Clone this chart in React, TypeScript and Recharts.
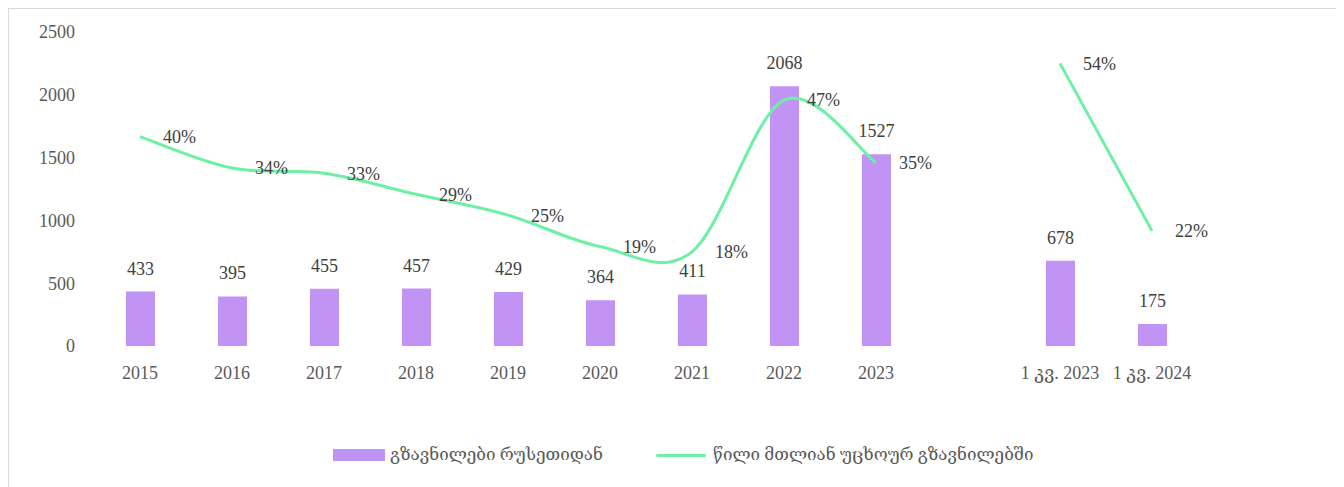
import React from 'react'
import {
	ComposedChart,
	Bar,
	Line,
	XAxis,
	YAxis,
	LabelList,
} from 'recharts'

// categories (one empty slot separates the yearly and quarterly data)
const categories = [
	'2015',
	'2016',
	'2017',
	'2018',
	'2019',
	'2020',
	'2021',
	'2022',
	'2023',
	'',
	'1 კვ. 2023',
	'1 კვ. 2024',
]

// remittances from Russia (mln USD)
const remittances = [433, 395, 455, 457, 429, 364, 411, 2068, 1527, null, 678, 175]

// share in total foreign remittances
const share = [0.4, 0.34, 0.33, 0.29, 0.25, 0.19, 0.18, 0.47, 0.35, null, 0.54, 0.22]

const leftTicks = [0, 500, 1000, 1500, 2000, 2500]

const barName = 'გზავნილები რუსეთიდან'
const lineName = 'წილი მთლიან უცხოურ გზავნილებში'

const data = categories.map((label, i) => ({
	label,
	remittances: remittances[i],
	share: share[i],
}))

const FONT = '"Liberation Serif", "DejaVu Serif", serif'
const BAR_COLOR = '#c193f5'
const LINE_COLOR = '#6cf0a3'

// smoothed line like the spreadsheet one (Catmull-Rom through the points)
const smoothCurve = (context: any) => {
	let pts: [number, number][] = []
	return {
		areaStart() {},
		areaEnd() {},
		lineStart() {
			pts = []
		},
		lineEnd() {
			if (!pts.length) return
			context.moveTo(pts[0][0], pts[0][1])
			for (let i = 0; i < pts.length - 1; i++) {
				const p0 = pts[Math.max(i - 1, 0)]
				const p1 = pts[i]
				const p2 = pts[i + 1]
				const p3 = pts[Math.min(i + 2, pts.length - 1)]
				context.bezierCurveTo(
					p1[0] + (p2[0] - p0[0]) / 6,
					p1[1] + (p2[1] - p0[1]) / 6,
					p2[0] - (p3[0] - p1[0]) / 6,
					p2[1] - (p3[1] - p1[1]) / 6,
					p2[0],
					p2[1]
				)
			}
		},
		point(x: number, y: number) {
			pts.push([x, y])
		},
	}
}

const formatPct = (v: any) => (v == null ? '' : `${Math.round(v * 100)}%`)

const App = () => {
	return (
		<div
			style={{
				position: 'relative',
				boxSizing: 'border-box',
				width: 1331,
				height: 500,
				border: '1px solid #d9d9d9',
				borderBottom: 'none',
				background: '#fff',
				fontFamily: FONT,
			}}
		>
			<ComposedChart
				width={1328}
				height={478}
				data={data}
				margin={{ top: 23, right: 139, left: 0, bottom: 91 }}
			>
				<XAxis
					dataKey="label"
					interval={0}
					axisLine={false}
					tickLine={false}
					tickSize={0}
					tickMargin={20}
					height={50}
					tick={{ fontSize: 18, fill: '#595959', fontFamily: FONT }}
				/>
				<YAxis
					yAxisId="left"
					width={85}
					domain={[0, 2500]}
					ticks={leftTicks}
					axisLine={false}
					tickLine={false}
					tickSize={0}
					tickMargin={19}
					tick={{ fontSize: 18, fill: '#595959', fontFamily: FONT }}
				/>
				<YAxis yAxisId="right" orientation="right" domain={[0, 0.6]} hide />
				<Bar
					yAxisId="left"
					dataKey="remittances"
					name={barName}
					fill={BAR_COLOR}
					barSize={29}
					isAnimationActive={false}
				>
					<LabelList
						dataKey="remittances"
						position="top"
						offset={17}
						fill="#404040"
						fontSize={18}
						fontFamily={FONT}
					/>
				</Bar>
				<Line
					yAxisId="right"
					dataKey="share"
					name={lineName}
					type={smoothCurve as any}
					stroke={LINE_COLOR}
					strokeWidth={3}
					dot={false}
					activeDot={false}
					connectNulls={false}
					isAnimationActive={false}
				>
					<LabelList
						dataKey="share"
						position="right"
						offset={23}
						formatter={formatPct}
						fill="#404040"
						fontSize={18}
						fontFamily={FONT}
					/>
				</Line>
			</ComposedChart>

			{/* Legend */}
			<div
				style={{
					position: 'absolute',
					left: 324,
					top: 440,
					width: 52,
					height: 12,
					background: BAR_COLOR,
				}}
			></div>
			<span
				style={{
					position: 'absolute',
					left: 381,
					top: 434,
					fontSize: 17,
					lineHeight: '24px',
					color: '#595959',
					whiteSpace: 'nowrap',
				}}
			>
				{barName}
			</span>
			<div
				style={{
					position: 'absolute',
					left: 647,
					top: 445,
					width: 50,
					height: 3,
					borderRadius: 2,
					background: LINE_COLOR,
				}}
			></div>
			<span
				style={{
					position: 'absolute',
					left: 704,
					top: 434,
					fontSize: 17,
					lineHeight: '24px',
					color: '#595959',
					whiteSpace: 'nowrap',
				}}
			>
				{lineName}
			</span>
		</div>
	)
}

export default App
